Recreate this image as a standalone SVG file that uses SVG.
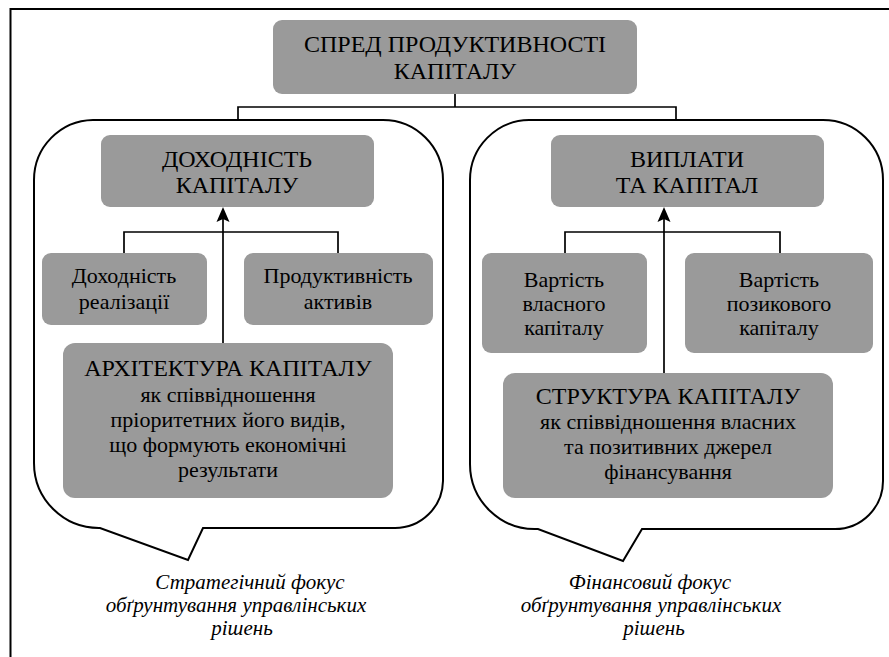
<svg xmlns="http://www.w3.org/2000/svg" width="889" height="657" viewBox="0 0 889 657">
<rect x="0" y="0" width="889" height="657" fill="#fff"/>
<rect x="10.5" y="9" width="905" height="705" fill="none" stroke="#000" stroke-width="2"/>

<g id="callout-left">
<path d="M93,120 H383 A60,60 0 0 1 443,180 V481 A48,48 0 0 1 395,528 H203 L188,560 L100,528 A65,65 0 0 1 34,463 V180 A60,60 0 0 1 93,120 Z" fill="#fff" stroke="#000" stroke-width="2"/>
<text x="250" y="589" font-family="Liberation Serif" font-size="21" font-style="italic" text-anchor="middle">Стратегічний фокус</text>
<text x="236" y="612" font-family="Liberation Serif" font-size="21" font-style="italic" text-anchor="middle">обґрунтування управлінських</text>
<text x="242" y="635" font-family="Liberation Serif" font-size="21" font-style="italic" text-anchor="middle">рішень</text>
</g>
<g id="callout-right">
<path d="M529,120 H823 A60,60 0 0 1 883,180 V481 A48,48 0 0 1 835,529 H642 L623,561 L538,529 A65,65 0 0 1 470,464 V180 A60,60 0 0 1 529,120 Z" fill="#fff" stroke="#000" stroke-width="2"/>
<text x="650" y="589" font-family="Liberation Serif" font-size="21" font-style="italic" text-anchor="middle">Фінансовий фокус</text>
<text x="651" y="612" font-family="Liberation Serif" font-size="21" font-style="italic" text-anchor="middle">обґрунтування управлінських</text>
<text x="654" y="635" font-family="Liberation Serif" font-size="21" font-style="italic" text-anchor="middle">рішень</text>
</g>

<g id="connectors" fill="none" stroke="#000" stroke-width="1.7">
<path d="M455,94 V107 M238,120 V107 H676 V120"/>
<path d="M124,253 V232 H338 V253"/>
<path d="M565,253 V232 H780 V253"/>
<path d="M223,343 V215"/>
<path d="M664,373 V215"/>
<path d="M223,207 L229.5,222 L223,219 L216.5,222 Z M664,207 L670.5,222 L664,219 L657.5,222 Z" fill="#000" stroke="none"/>
</g>

<g id="spread">
<rect x="273" y="20" width="364" height="74" rx="9" fill="#9a9a9a"/>
<text x="455" y="52" font-family="Liberation Serif" font-size="24" text-anchor="middle">СПРЕД ПРОДУКТИВНОСТІ</text>
<text x="455" y="79" font-family="Liberation Serif" font-size="24" text-anchor="middle">КАПІТАЛУ</text>
</g>
<g id="dohidnist-kapitalu">
<rect x="101" y="135" width="273" height="72" rx="9" fill="#9a9a9a"/>
<text x="237" y="167" font-family="Liberation Serif" font-size="24" text-anchor="middle">ДОХОДНІСТЬ</text>
<text x="237" y="193" font-family="Liberation Serif" font-size="24" text-anchor="middle">КАПІТАЛУ</text>
</g>
<g id="dohidnist-realizatsii">
<rect x="42" y="253" width="165" height="72" rx="9" fill="#9a9a9a"/>
<text x="124" y="283" font-family="Liberation Serif" font-size="22" text-anchor="middle">Доходність</text>
<text x="124" y="309" font-family="Liberation Serif" font-size="22" text-anchor="middle">реалізації</text>
</g>
<g id="produktyvnist-aktyviv">
<rect x="244" y="253" width="189" height="72" rx="9" fill="#9a9a9a"/>
<text x="338" y="283" font-family="Liberation Serif" font-size="22" text-anchor="middle">Продуктивність</text>
<text x="338" y="309" font-family="Liberation Serif" font-size="22" text-anchor="middle">активів</text>
</g>
<g id="arkhitektura">
<rect x="63" y="343" width="330" height="155" rx="12" fill="#9a9a9a"/>
<text x="228" y="376" font-family="Liberation Serif" font-size="24" text-anchor="middle">АРХІТЕКТУРА КАПІТАЛУ</text>
<text x="228" y="402" font-family="Liberation Serif" font-size="22" text-anchor="middle">як співвідношення</text>
<text x="228" y="427" font-family="Liberation Serif" font-size="22" text-anchor="middle">пріоритетних його видів,</text>
<text x="228" y="452" font-family="Liberation Serif" font-size="22" text-anchor="middle">що формують економічні</text>
<text x="228" y="477" font-family="Liberation Serif" font-size="22" text-anchor="middle">результати</text>
</g>
<g id="vyplaty">
<rect x="551" y="135" width="273" height="72" rx="9" fill="#9a9a9a"/>
<text x="687" y="167" font-family="Liberation Serif" font-size="24" text-anchor="middle">ВИПЛАТИ</text>
<text x="687" y="193" font-family="Liberation Serif" font-size="24" text-anchor="middle">ТА КАПІТАЛ</text>
</g>
<g id="vlasnyi">
<rect x="482" y="253" width="165" height="100" rx="9" fill="#9a9a9a"/>
<text x="564" y="287" font-family="Liberation Serif" font-size="22" text-anchor="middle">Вартість</text>
<text x="564" y="311" font-family="Liberation Serif" font-size="22" text-anchor="middle">власного</text>
<text x="564" y="335" font-family="Liberation Serif" font-size="22" text-anchor="middle">капіталу</text>
</g>
<g id="pozykovyi">
<rect x="685" y="253" width="188" height="100" rx="9" fill="#9a9a9a"/>
<text x="779" y="287" font-family="Liberation Serif" font-size="22" text-anchor="middle">Вартість</text>
<text x="779" y="311" font-family="Liberation Serif" font-size="22" text-anchor="middle">позикового</text>
<text x="779" y="335" font-family="Liberation Serif" font-size="22" text-anchor="middle">капіталу</text>
</g>
<g id="struktura">
<rect x="503" y="373" width="330" height="125" rx="12" fill="#9a9a9a"/>
<text x="668" y="404" font-family="Liberation Serif" font-size="24" text-anchor="middle">СТРУКТУРА КАПІТАЛУ</text>
<text x="668" y="429" font-family="Liberation Serif" font-size="22" text-anchor="middle">як співвідношення власних</text>
<text x="668" y="454" font-family="Liberation Serif" font-size="22" text-anchor="middle">та позитивних джерел</text>
<text x="668" y="479" font-family="Liberation Serif" font-size="22" text-anchor="middle">фінансування</text>
</g>
</svg>
